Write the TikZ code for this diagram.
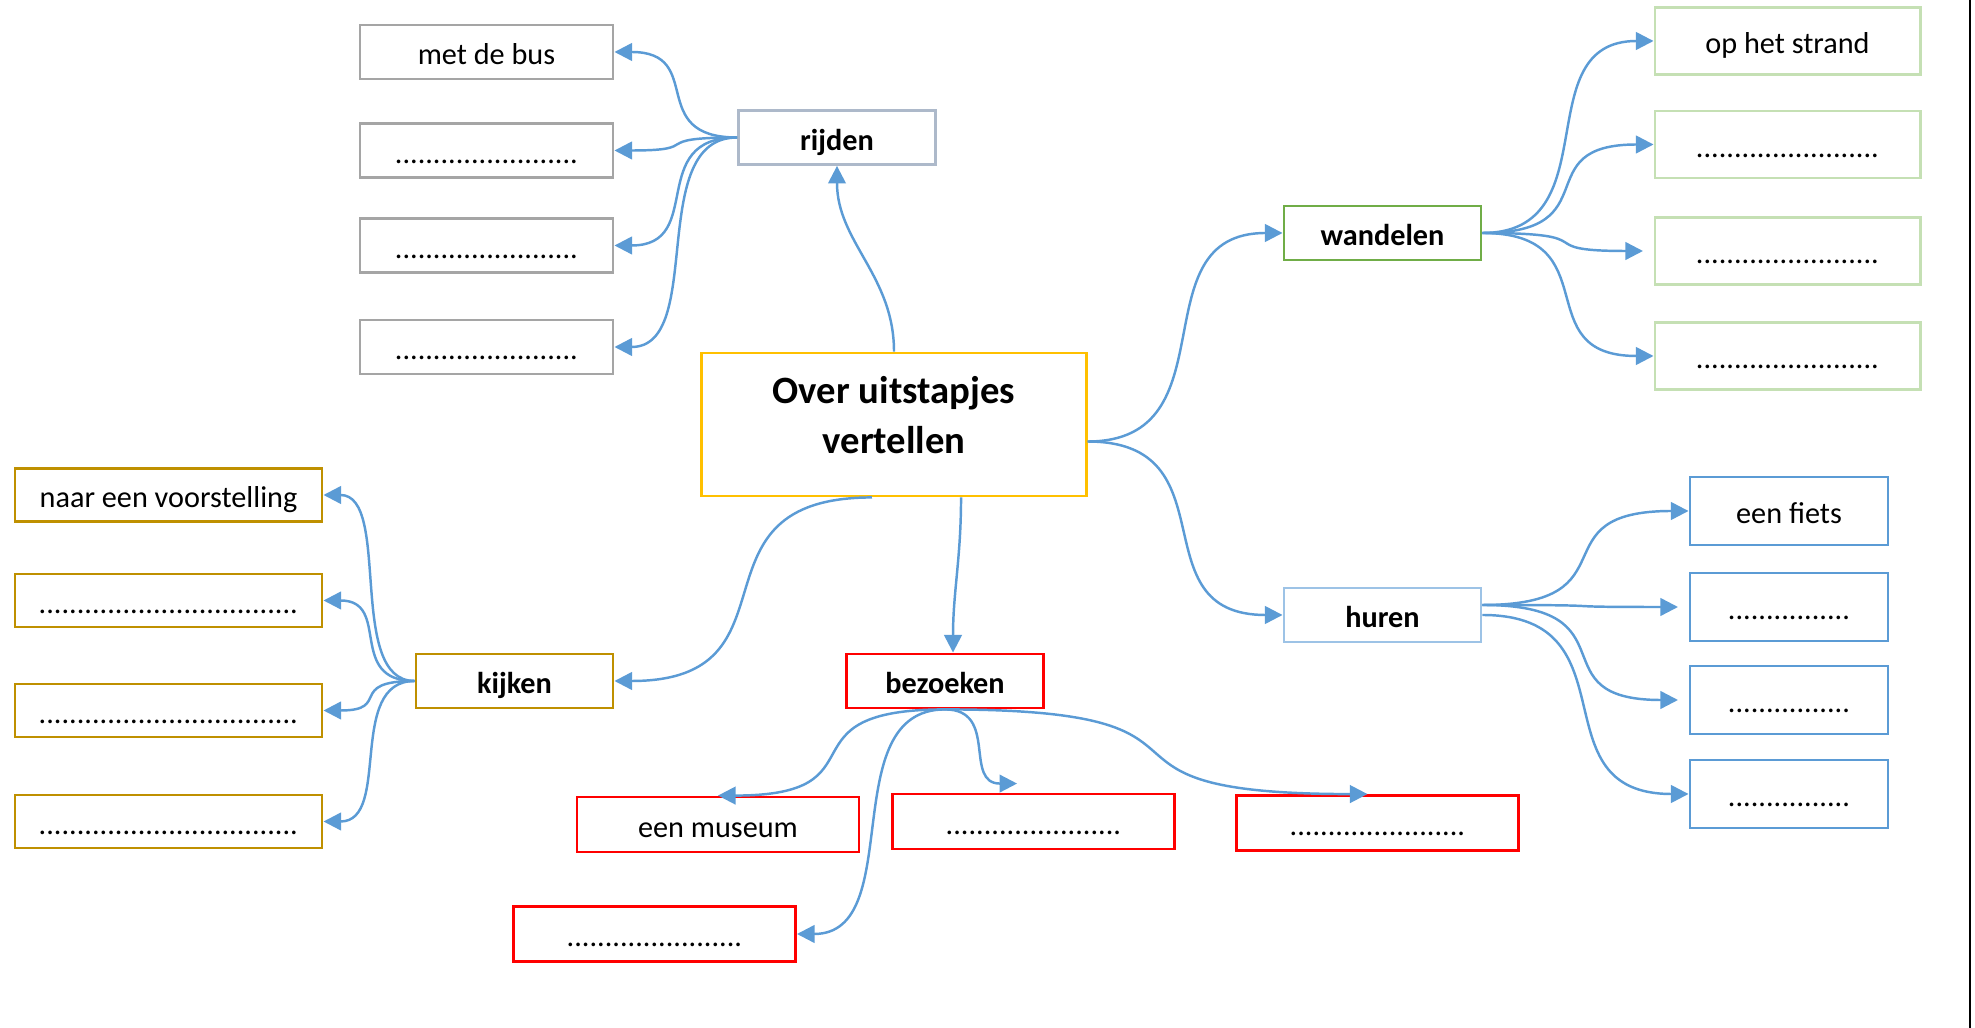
\documentclass[tikz,border=0pt]{standalone}
\usepackage{fontspec}
\setmainfont{Carlito}
\usetikzlibrary{
  positioning, arrows.meta, calc
}
\definecolor{tripgold}{HTML}{FFC000}
\definecolor{tripgray}{HTML}{A5A5A5}
\definecolor{tripsteel}{HTML}{ADB9CA}
\definecolor{tripgreen}{HTML}{70AD47}
\definecolor{tripmint}{HTML}{C5E0B4}
\definecolor{tripsky}{HTML}{9DC3E6}
\definecolor{tripblue}{HTML}{5B9BD5}
\definecolor{tripochre}{HTML}{BF9000}
\definecolor{tripred}{HTML}{FF0000}
\definecolor{tripline}{HTML}{5B9BD5}

\begin{document}
\begin{tikzpicture}[x=0.01cm, y=-0.01cm,
    every node/.style={font=\fontsize{8.6}{10.3}\selectfont},
    card/.style={draw, line width=0.8pt, fill=white, inner sep=0pt,
      text height=8pt, text depth=0.8pt},
    hub/.style={card, minimum width=1.97cm, minimum height=0.54cm,
      font=\fontsize{8.6}{10.3}\selectfont\bfseries},
    graycard/.style={card, draw=tripgray, minimum width=2.53cm, minimum height=0.54cm},
    mintcard/.style={card, draw=tripmint, minimum width=2.65cm, minimum height=0.67cm},
    bluecard/.style={card, draw=tripblue, minimum width=1.98cm, minimum height=0.68cm},
    ochrecard/.style={card, draw=tripochre, minimum width=3.07cm, minimum height=0.53cm},
    redcard/.style={card, draw=tripred, minimum width=2.82cm, minimum height=0.55cm},
    link/.style={-{Triangle[length=5pt,width=5pt]}, line width=0.7pt, draw=tripline},
    hv/.style={to path={.. controls ($(\tikztostart)!0.75!(\tikztotarget |- \tikztostart)$)
      and ($(\tikztotarget)!0.75!(\tikztostart |- \tikztotarget)$) .. (\tikztotarget) \tikztonodes}},
  ]
  \useasboundingbox (0,0) rectangle (1975,1028);
  \draw[line width=0.8pt] (1970,0) -- (1970,1028);

  % Centre topic
  \node[card, draw=tripgold, minimum width=3.84cm, minimum height=1.43cm,
    align=center, text height=, text depth=5.5pt,
    font=\fontsize{11}{14}\selectfont\bfseries] (centre) at (894,424.5)
    {Over uitstapjes\\vertellen};

  % Branch topics
  \node[hub, draw=tripsteel] (rijden) at (837,137.5) {rijden};
  \node[hub, draw=tripgreen] (wandelen) at (1382.5,233) {wandelen};
  \node[hub, draw=tripsky] (huren) at (1382.5,615) {huren};
  \node[hub, draw=tripochre] (kijken) at (514.5,681) {kijken};
  \node[hub, draw=tripred] (bezoeken) at (945,681) {bezoeken};

  % rijden
  \node[graycard] (bus) at (486.5,52) {met de bus};
  \foreach \n/\y in {rij1/150.5, rij2/245.5, rij3/347}
    \node[graycard] (\n) at (486.5,\y) {........................};

  % wandelen
  \node[mintcard] (strand) at (1787.5,41) {op het strand};
  \foreach \n/\y in {wan1/144.5, wan2/251, wan3/356}
    \node[mintcard] (\n) at (1787.5,\y) {........................};

  % huren
  \node[bluecard] (fiets) at (1789,511) {een fiets};
  \foreach \n/\y in {hur1/607, hur2/700, hur3/794}
    \node[bluecard] (\n) at (1789,\y) {................};

  % kijken
  \node[ochrecard] (show) at (168.5,495) {naar een voorstelling};
  \foreach \n/\y in {kij1/600.5, kij2/710.5, kij3/821.5}
    \node[ochrecard] (\n) at (168.5,\y) {..................................};

  % bezoeken
  \node[redcard] (museum) at (718,824.5) {een museum};
  \node[redcard] (bez1) at (1033.5,821.5) {.......................};
  \node[redcard] (bez2) at (1377.5,823) {.......................};
  \node[redcard] (bez3) at (654.5,934) {.......................};

  % Loose ends of the connectors
  \coordinate (cEast) at ([yshift=-0.17cm]centre.east);
  \coordinate (cLeft) at ([xshift=-0.22cm]centre.south);
  \coordinate (hurTop) at ([yshift=0.1cm]huren.east);
  \coordinate (bez1top) at ([xshift=1.26cm,yshift=0.09cm]bez1.north west);
  \coordinate (bez2top) at ([xshift=-0.1cm]bez2.north);

  % Connectors from the centre
  \draw[link] (centre.north) to[out=90,in=-90] (rijden.south);
  \draw[link] (cEast) to[hv] (wandelen.west);
  \draw[link] (cEast) to[hv] (huren.west);
  \draw[link] (cLeft) to[hv] (kijken.east);
  \draw[link] ([xshift=0.67cm]centre.south) to[out=-90,in=90] ([xshift=0.08cm]bezoeken.north);

  % Connectors to the answers
  \foreach \n in {bus, rij1, rij2, rij3}
    \draw[link] (rijden.west) to[hv] (\n.east);
  \foreach \n/\s in {strand/0, wan1/0, wan2/3, wan3/0}
    \draw[link, shorten >=\s pt] (wandelen.east) to[hv] (\n.west);
  \foreach \n/\s in {fiets/0, hur1/3, hur2/3}
    \draw[link, shorten >=\s pt] (hurTop) to[hv] (\n.west);
  \draw[link] (huren.east) to[hv] (hur3.west);
  \foreach \n in {show, kij1, kij2, kij3}
    \draw[link] (kijken.west) to[hv] (\n.east);
  \draw[link] (bezoeken.south) to[hv] (museum.north);
  \draw[link] (bezoeken.south) to[hv] (bez1top);
  \draw[link] (bezoeken.south) to[hv] (bez2top);
  \draw[link] (bezoeken.south) to[hv] (bez3.east);
\end{tikzpicture}
\end{document}
